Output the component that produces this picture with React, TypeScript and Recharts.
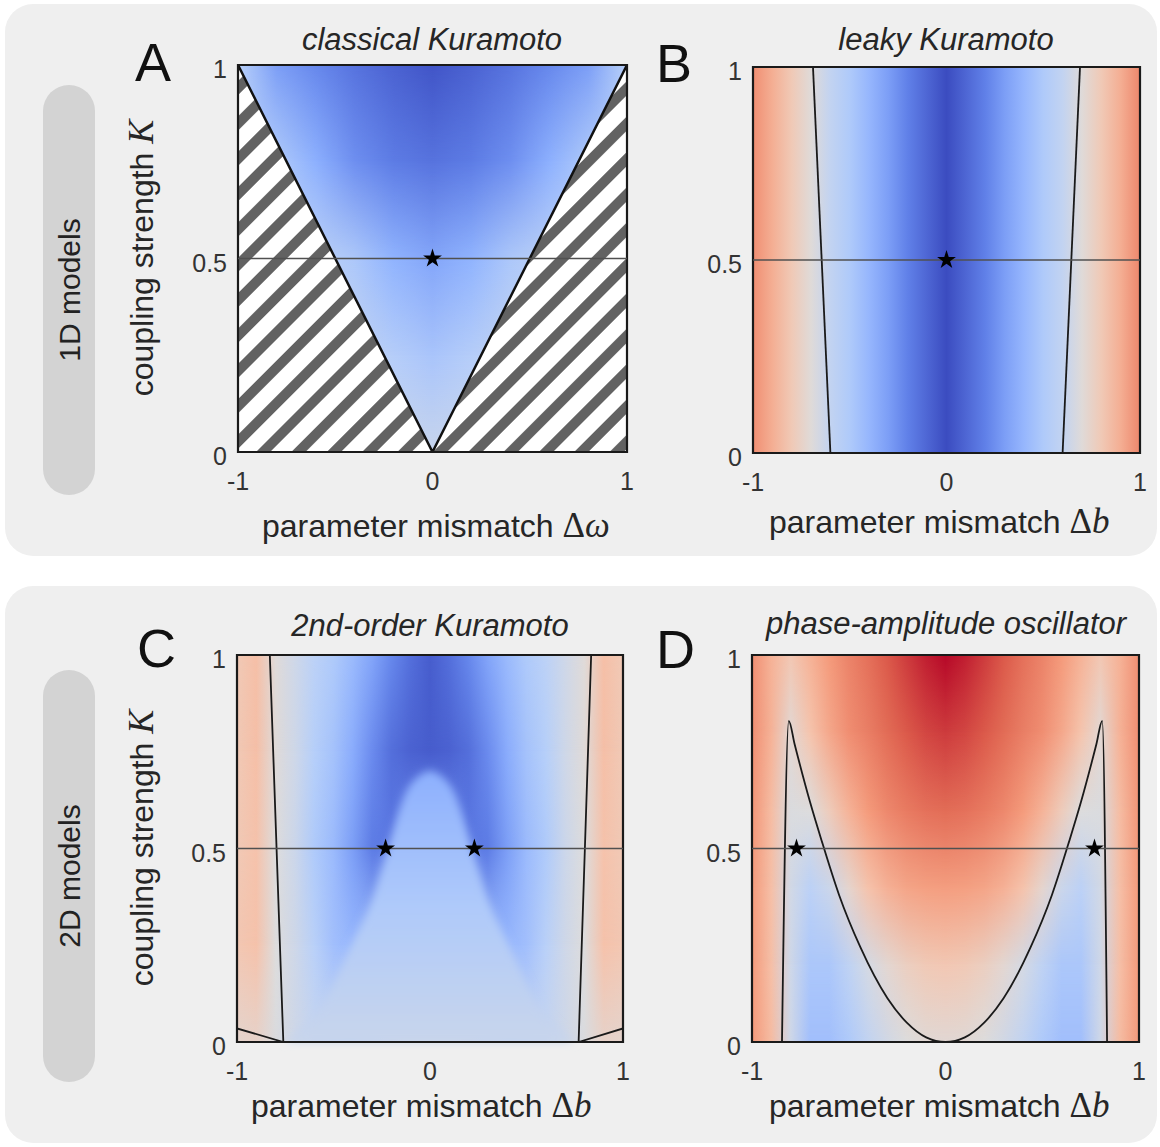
import React from 'react';
import {
  ComposedChart,
  XAxis,
  YAxis,
  Area,
  Line,
  Scatter,
  ReferenceArea,
  ReferenceLine,
  Symbols,
} from 'recharts';

const FONT = '"Liberation Sans", Arial, Helvetica, sans-serif';
const SERIF = '"Liberation Serif", "DejaVu Serif", serif';
const INK = '#262626';

// axis ticks
const xTicks = [-1, 0, 1];
const yTicks = [0, 0.5, 1];

// heat-map sample columns (parameter mismatch)
const cols11 = [-1, -0.8, -0.6, -0.4, -0.2, 0, 0.2, 0.4, 0.6, 0.8, 1];
const cols21 = [-1, -0.9, -0.8, -0.7, -0.6, -0.5, -0.4, -0.3, -0.2, -0.1, 0, 0.1, 0.2, 0.3, 0.4, 0.5, 0.6, 0.7, 0.8, 0.9, 1];

// A: classical Kuramoto (values: -1 blue .. 0 neutral .. 1 red)
const aLevels = [0, 0.25, 0.5, 0.75, 1];
const aRows = [
  [-0.12, -0.12, -0.12, -0.12, -0.13, -0.15, -0.13, -0.12, -0.12, -0.12, -0.12],
  [-0.15, -0.15, -0.15, -0.18, -0.27, -0.34, -0.27, -0.18, -0.15, -0.15, -0.15],
  [-0.2, -0.2, -0.22, -0.32, -0.48, -0.56, -0.48, -0.32, -0.22, -0.2, -0.2],
  [-0.25, -0.3, -0.5, -0.68, -0.78, -0.82, -0.78, -0.68, -0.5, -0.3, -0.25],
  [-0.25, -0.6, -0.72, -0.82, -0.9, -0.96, -0.9, -0.82, -0.72, -0.6, -0.25],
];
const aWedgeX = [-1, 0, 1];
const aWedgeY = [1, 0, 1];
const aStarX = [0];
const aStarY = [0.5];

// B: leaky Kuramoto
const bLevels = [0];
const bRows = [
  [0.55, 0.38, 0.2, 0.02, -0.18, -0.3, -0.45, -0.6, -0.76, -0.88, -1, -0.88, -0.76, -0.6, -0.45, -0.3, -0.18, 0.02, 0.2, 0.38, 0.58],
];
const bLeftX = [-0.69, -0.6];
const bLeftY = [1, 0];
const bRightX = [0.69, 0.6];
const bRightY = [1, 0];
const bStarX = [0];
const bStarY = [0.5];

// C: 2nd-order Kuramoto
const cLevels = [0, 0.25, 0.5, 0.75, 1];
const cRows = [
  [0.08, 0.1, -0.02, -0.1, -0.16, -0.18, -0.18, -0.16, -0.14, -0.13, -0.12, -0.13, -0.14, -0.16, -0.18, -0.18, -0.16, -0.1, -0.02, 0.1, 0.08],
  [0.22, 0.26, 0.0, -0.1, -0.24, -0.38, -0.45, -0.42, -0.38, -0.34, -0.32, -0.34, -0.38, -0.42, -0.45, -0.38, -0.24, -0.1, 0.0, 0.26, 0.22],
  [0.2, 0.26, 0.0, -0.12, -0.3, -0.42, -0.6, -0.78, -0.8, -0.7, -0.6, -0.7, -0.8, -0.78, -0.6, -0.42, -0.3, -0.12, 0.0, 0.26, 0.2],
  [0.2, 0.28, 0.02, -0.1, -0.26, -0.36, -0.52, -0.7, -0.84, -0.9, -0.92, -0.9, -0.84, -0.7, -0.52, -0.36, -0.26, -0.1, 0.02, 0.28, 0.2],
  [0.2, 0.28, 0.02, -0.1, -0.22, -0.3, -0.42, -0.56, -0.72, -0.84, -0.92, -0.84, -0.72, -0.56, -0.42, -0.3, -0.22, -0.1, 0.02, 0.28, 0.2],
];
const cBellX = [-0.75, -0.56, -0.41, -0.3, -0.22, -0.12, -0.05, 0, 0.05, 0.12, 0.22, 0.3, 0.41, 0.56, 0.75];
const cBellY = [0, 0.1, 0.25, 0.37, 0.5, 0.65, 0.69, 0.7, 0.69, 0.65, 0.5, 0.37, 0.25, 0.1, 0];
const cBellShade = [-0.5, -0.3, -0.14];
const cLeftX = [-0.83, -0.76, -1];
const cLeftY = [1, 0, 0.035];
const cRightX = [0.835, 0.77, 1];
const cRightY = [1, 0, 0.035];
const cStarX = [-0.23, 0.23];
const cStarY = [0.5, 0.5];

// D: phase-amplitude oscillator
const dLevels = [0, 0.2, 0.4, 0.6, 0.8, 1];
const dRows = [
  [0.5, 0.3, -0.1, -0.38, -0.38, -0.3, -0.18, -0.08, 0.0, 0.04, 0.05, 0.04, 0.0, -0.08, -0.18, -0.3, -0.38, -0.38, -0.1, 0.3, 0.5],
  [0.5, 0.28, -0.1, -0.32, -0.32, -0.2, -0.06, 0.06, 0.15, 0.2, 0.22, 0.2, 0.15, 0.06, -0.06, -0.2, -0.32, -0.32, -0.1, 0.28, 0.5],
  [0.5, 0.28, -0.08, -0.22, -0.12, 0.08, 0.26, 0.37, 0.44, 0.47, 0.48, 0.47, 0.44, 0.37, 0.26, 0.08, -0.12, -0.22, -0.08, 0.28, 0.5],
  [0.52, 0.3, -0.02, 0.0, 0.18, 0.36, 0.5, 0.58, 0.64, 0.68, 0.7, 0.68, 0.64, 0.58, 0.5, 0.36, 0.18, 0.0, -0.02, 0.3, 0.52],
  [0.55, 0.36, 0.05, 0.25, 0.42, 0.55, 0.62, 0.7, 0.77, 0.82, 0.85, 0.82, 0.77, 0.7, 0.62, 0.55, 0.42, 0.25, 0.05, 0.36, 0.55],
  [0.55, 0.36, 0.22, 0.36, 0.5, 0.6, 0.68, 0.77, 0.85, 0.93, 0.99, 0.93, 0.85, 0.77, 0.68, 0.6, 0.5, 0.36, 0.22, 0.36, 0.55],
];
const dCurveX = [-0.845, -0.81, -0.78, -0.7, -0.64, -0.55, -0.44, -0.3, -0.2, -0.1, 0, 0.1, 0.2, 0.3, 0.44, 0.55, 0.64, 0.7, 0.78, 0.81, 0.835];
const dCurveY = [0, 0.83, 0.77, 0.62, 0.52, 0.38, 0.245, 0.113, 0.05, 0.012, 0, 0.012, 0.05, 0.113, 0.245, 0.38, 0.52, 0.62, 0.77, 0.83, 0];
const dStarX = [-0.77, 0.77];
const dStarY = [0.5, 0.5];

const pts = (xs: number[], ys: number[]) => xs.map((x, i) => ({ x, y: ys[i] }));

// diverging blue-grey-red colour map
const coolwarm = ['#3b4cc0', '#6282ea', '#8db0fe', '#b8d0f9', '#dddcdc', '#f5c4ad', '#f49a7b', '#de604d', '#b40426'];

function shade(v: number) {
  const t = Math.min(1, Math.max(0, (v + 1) / 2)) * 8;
  const i = Math.min(7, Math.floor(t));
  const f = t - i;
  const a = coolwarm[i];
  const b = coolwarm[i + 1];
  const ch = (h: string, k: number) => parseInt(h.slice(1 + 2 * k, 3 + 2 * k), 16);
  const mix = [0, 1, 2].map((k) => Math.round(ch(a, k) + (ch(b, k) - ch(a, k)) * f));
  return `rgb(${mix.join(',')})`;
}

type HeatProps = { id: string; cols: number[]; levels: number[]; rows: number[][] };

// gradients + fade masks for one heat map (rows blended vertically)
function HeatDefs({ id, cols, levels, rows }: HeatProps) {
  const span = cols[cols.length - 1] - cols[0];
  return (
    <>
      {rows.map((r, k) => (
        <linearGradient key={`g${k}`} id={`${id}-row${k}`} x1="0" y1="0" x2="1" y2="0">
          {r.map((v, i) => (
            <stop key={i} offset={(cols[i] - cols[0]) / span} stopColor={shade(v)} />
          ))}
        </linearGradient>
      ))}
      {levels.map((lv, k) =>
        k === 0 ? null : (
          <React.Fragment key={`m${k}`}>
            <linearGradient id={`${id}-fade${k}`} x1="0" y1="0" x2="0" y2="1">
              <stop offset={0} stopColor="#fff" stopOpacity={1} />
              <stop offset={(1 - lv) / (1 - levels[k - 1])} stopColor="#fff" stopOpacity={1} />
              <stop offset={1} stopColor="#fff" stopOpacity={0} />
            </linearGradient>
            <mask id={`${id}-mask${k}`} maskContentUnits="objectBoundingBox" style={{ maskType: 'alpha' } as any}>
              <rect x="0" y="0" width="1" height="1" fill={`url(#${id}-fade${k})`} />
            </mask>
          </React.Fragment>
        )
      )}
    </>
  );
}

function heatLayers(id: string, levels: number[]) {
  return levels.map((lv, k) => (
    <ReferenceArea
      key={`${id}-layer${k}`}
      x1={-1}
      x2={1}
      y1={k === 0 ? 0 : levels[k - 1]}
      y2={1}
      ifOverflow="visible"
      shape={(p: any) => (
        <rect
          x={p.x}
          y={p.y}
          width={p.width}
          height={p.height}
          fill={`url(#${id}-row${k})`}
          mask={k ? `url(#${id}-mask${k})` : undefined}
        />
      )}
    />
  ));
}

const XTick = (p: any) => (
  <text x={p.x} y={p.y + 38} textAnchor="middle" fontSize={25} fill="#333" fontFamily={FONT}>
    {p.payload.value}
  </text>
);

const YTick = (p: any) => (
  <text x={p.x - 11} y={p.y + 13} textAnchor="end" fontSize={25} fill="#333" fontFamily={FONT}>
    {p.payload.value}
  </text>
);

const starShape = (p: any) => <Symbols cx={p.cx} cy={p.cy} type="star" size={110} fill="#000" />;

type Box = { left: number; top: number; w: number; h: number };
const boxA: Box = { left: 238, top: 65, w: 389, h: 387 };
const boxB: Box = { left: 753, top: 67, w: 387, h: 386 };
const boxC: Box = { left: 237, top: 655, w: 386, h: 387 };
const boxD: Box = { left: 752, top: 655, w: 387, h: 387 };

function Frame({ box, children }: { box: Box; children: React.ReactNode }) {
  return (
    <div style={{ position: 'absolute', left: box.left - 80, top: box.top - 10 }}>
      <ComposedChart
        width={box.w + 90}
        height={box.h + 70}
        margin={{ top: 10, right: 10, bottom: 10, left: 0 }}
      >
        <XAxis
          type="number"
          dataKey="x"
          domain={[-1, 1]}
          ticks={xTicks}
          interval={0}
          height={50}
          tickSize={0}
          tickMargin={0}
          axisLine={false}
          tickLine={false}
          tick={XTick}
          allowDataOverflow
        />
        <YAxis
          type="number"
          dataKey="y"
          domain={[0, 1]}
          ticks={yTicks}
          interval={0}
          width={80}
          tickSize={0}
          tickMargin={0}
          axisLine={false}
          tickLine={false}
          tick={YTick}
          allowDataOverflow
        />
        {children}
        <ReferenceLine y={0.5} stroke="#505050" strokeWidth={1.5} />
        <ReferenceArea x1={-1} x2={1} y1={0} y2={1} fill="none" stroke="#1a1a1a" strokeWidth={2.2} ifOverflow="visible" />
      </ComposedChart>
    </div>
  );
}

const boundary = (key: string, xs: number[], ys: number[], curve: 'linear' | 'monotone' = 'linear') => (
  <Line
    key={key}
    data={pts(xs, ys)}
    dataKey="y"
    type={curve}
    stroke="#1a1a1a"
    strokeWidth={1.8}
    dot={false}
    activeDot={false}
    isAnimationActive={false}
  />
);

const stars = (key: string, xs: number[], ys: number[]) => (
  <Scatter key={key} data={pts(xs, ys)} dataKey="y" shape={starShape} isAnimationActive={false} />
);

function XLabel({ x, y, v }: { x: number; y: number; v: string }) {
  return (
    <text x={x} y={y} fontSize={32} fill={INK} fontFamily={FONT}>
      parameter mismatch{' '}
      <tspan fontFamily={SERIF} fontSize={35}>Δ</tspan>
      <tspan fontFamily={SERIF} fontSize={35} fontStyle="italic">{v}</tspan>
    </text>
  );
}

function YLabel({ x, y }: { x: number; y: number }) {
  return (
    <text transform={`translate(${x} ${y}) rotate(-90)`} textAnchor="middle" fontSize={32} fill={INK} fontFamily={FONT}>
      coupling strength{' '}
      <tspan fontFamily={SERIF} fontSize={36} fontStyle="italic">K</tspan>
    </text>
  );
}

export default function App() {
  return (
    <div style={{ position: 'absolute', left: 0, top: 0, width: 1160, height: 1147, background: '#fff', overflow: 'hidden', fontFamily: FONT }}>
      <style>{'.bell-soft { filter: url(#soft); }'}</style>
      <svg width={0} height={0} style={{ position: 'absolute' }}>
        <defs>
          <pattern id="hatch" patternUnits="userSpaceOnUse" width="25" height="25" patternTransform="rotate(45)">
            <rect width="25" height="25" fill="#fff" />
            <rect width="10" height="25" fill="#626262" />
          </pattern>
          <linearGradient id="bellGrad" x1="0" y1="0" x2="0" y2="1">
            {cBellShade.map((v, i) => (
              <stop key={i} offset={i / (cBellShade.length - 1)} stopColor={shade(v)} />
            ))}
          </linearGradient>
          <filter id="soft" x="-20%" y="-20%" width="140%" height="140%">
            <feGaussianBlur stdDeviation="4" />
          </filter>
          <HeatDefs id="hA" cols={cols11} levels={aLevels} rows={aRows} />
          <HeatDefs id="hB" cols={cols21} levels={bLevels} rows={bRows} />
          <HeatDefs id="hC" cols={cols21} levels={cLevels} rows={cRows} />
          <HeatDefs id="hD" cols={cols21} levels={dLevels} rows={dRows} />
        </defs>
      </svg>

      <div style={{ position: 'absolute', left: 5, top: 4, width: 1152, height: 552, borderRadius: 28, background: '#efefef' }} />
      <div style={{ position: 'absolute', left: 5, top: 586, width: 1152, height: 557, borderRadius: 28, background: '#efefef' }} />
      <div style={{ position: 'absolute', left: 43, top: 85, width: 52, height: 410, borderRadius: 26, background: '#d3d3d3' }} />
      <div style={{ position: 'absolute', left: 43, top: 670, width: 52, height: 412, borderRadius: 26, background: '#d3d3d3' }} />

      <Frame box={boxA}>
        {heatLayers('hA', aLevels)}
        <Area
          data={pts(aWedgeX, aWedgeY)}
          dataKey="y"
          type="linear"
          baseValue={0}
          fill="url(#hatch)"
          fillOpacity={1}
          stroke="#111"
          strokeWidth={2.5}
          dot={false}
          activeDot={false}
          isAnimationActive={false}
        />
        {stars('sA', aStarX, aStarY)}
      </Frame>

      <Frame box={boxB}>
        {heatLayers('hB', bLevels)}
        {boundary('bl', bLeftX, bLeftY)}
        {boundary('br', bRightX, bRightY)}
        {stars('sB', bStarX, bStarY)}
      </Frame>

      <Frame box={boxC}>
        {heatLayers('hC', cLevels)}
        <Area
          className="bell-soft"
          data={pts(cBellX, cBellY)}
          dataKey="y"
          type="monotone"
          baseValue={0}
          fill="url(#bellGrad)"
          fillOpacity={1}
          stroke="none"
          dot={false}
          activeDot={false}
          isAnimationActive={false}
        />
        {boundary('cl', cLeftX, cLeftY)}
        {boundary('cr', cRightX, cRightY)}
        {stars('sC', cStarX, cStarY)}
      </Frame>

      <Frame box={boxD}>
        {heatLayers('hD', dLevels)}
        {boundary('dc', dCurveX, dCurveY, 'monotone')}
        {stars('sD', dStarX, dStarY)}
      </Frame>

      <svg width={1160} height={1147} style={{ position: 'absolute', left: 0, top: 0, pointerEvents: 'none' }}>
        <g fontFamily={FONT} fill={INK}>
          <text x={432} y={50} fontSize={31} fontStyle="italic" textAnchor="middle">classical Kuramoto</text>
          <text x={946} y={50} fontSize={31} fontStyle="italic" textAnchor="middle">leaky Kuramoto</text>
          <text x={430} y={636} fontSize={31} fontStyle="italic" textAnchor="middle">2nd-order Kuramoto</text>
          <text x={946} y={634} fontSize={31} fontStyle="italic" textAnchor="middle">phase-amplitude oscillator</text>

          <text x={135} y={81} fontSize={54} fill="#111">A</text>
          <text x={656} y={82} fontSize={54} fill="#111">B</text>
          <text x={137} y={667} fontSize={54} fill="#111">C</text>
          <text x={656} y={668} fontSize={54} fill="#111">D</text>

          <text transform="translate(69 290) rotate(-90)" textAnchor="middle" dominantBaseline="central" fontSize={30} fill="#222">1D models</text>
          <text transform="translate(69 876) rotate(-90)" textAnchor="middle" dominantBaseline="central" fontSize={30} fill="#222">2D models</text>
        </g>
        <XLabel x={262} y={537} v="ω" />
        <XLabel x={769} y={533} v="b" />
        <XLabel x={251} y={1117} v="b" />
        <XLabel x={769} y={1117} v="b" />
        <YLabel x={153} y={258} />
        <YLabel x={153} y={848} />
      </svg>
    </div>
  );
}
